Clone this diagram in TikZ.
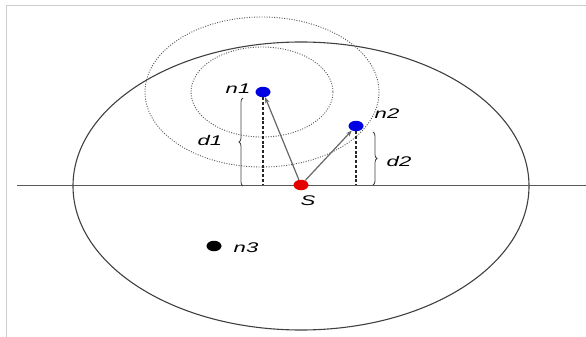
\documentclass[tikz,border=0pt]{standalone}
\usepackage{fontspec}
\setmainfont{Liberation Sans}
\usetikzlibrary{shapes.geometric, arrows.meta, decorations.pathreplacing}

\begin{document}
\begin{tikzpicture}[
    x=1pt, y=-1pt,
    dot/.style={ellipse, inner sep=0pt, minimum width=15pt, minimum height=10.5pt},
    lab/.style={font=\fontsize{14}{16}\selectfont\itshape, inner sep=0pt, xscale=1.58},
    arrow/.style={-{Stealth[length=6pt, width=4.5pt]}, line width=1.2pt, draw=black!60},
    drop/.style={dash pattern=on 3pt off 1.8pt, line width=1.5pt, draw=black!85},
    ring/.style={dash pattern=on 1pt off 1.5pt, line width=0.9pt, draw=black!65},
    bracket/.style={decorate, decoration={brace, amplitude=4pt}, line width=0.8pt, draw=black!75},
    rim/.style={line width=1.1pt, draw=black!75},
    axis/.style={line width=0.9pt, draw=black!65},
    frame/.style={line width=1.5pt, draw=black!20},
]
\useasboundingbox (0,0) rectangle (586,337);

% ---------- frame, coverage disc, ground line ----------
\draw[frame] (6.5,337) -- (6.5,5.5) -- (586,5.5);
\draw[rim] (301,186) ellipse [x radius=228, y radius=144];
\coordinate (west) at (17,185);
\coordinate (east) at (586,185);
\draw[axis] (west) -- (east);

% ---------- ranges around n1 ----------
\coordinate (c1) at (262,92);
\draw[ring] (c1) ellipse [x radius=71, y radius=45];
\draw[ring] (c1) ellipse [x radius=117, y radius=75];

% ---------- nodes ----------
\node[dot, fill=red!90!black]  (src) at (301,185) {};
\node[dot, fill=blue!90!black] (n1)  at (263,92)  {};
\node[dot, fill=blue!90!black] (n2)  at (356,126) {};
\node[dot, fill=black]         (n3)  at (214,246) {};

\node[lab] (srclab) at (308,201) {S};
\node[lab] (n1lab)  at (238,89)  {n1};
\node[lab] (n2lab)  at (387,114) {n2};
\node[lab] (n3lab)  at (246,248) {n3};

% ---------- heights ----------
\draw[drop] (n1) -- (n1 |- west);
\draw[drop] (n2) -- (n2 |- west);

\coordinate (b1top) at (243,98);
\coordinate (b1bot) at (243,186);
\draw[bracket] (b1bot) -- (b1top);
\node[lab] (d1lab) at (210,140) {d1};

\coordinate (b2top) at (373,132);
\coordinate (b2bot) at (373,185);
\draw[bracket] (b2top) -- (b2bot);
\node[lab] (d2lab) at (399,161) {d2};

% ---------- links from S ----------
\draw[arrow] (src) -- (n1);
\draw[arrow] (src) -- (n2);

\end{tikzpicture}
\end{document}
